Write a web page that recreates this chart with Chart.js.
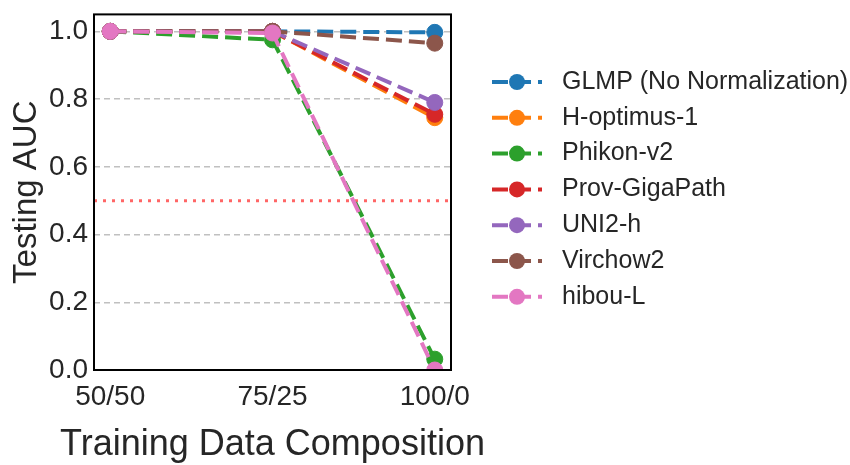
<!DOCTYPE html>
<html>
<head>
<meta charset="utf-8">
<script src="https://cdn.jsdelivr.net/npm/chart.js@4/dist/chart.umd.min.js"></script>
<style>
  body { margin: 0; background: #fff; }
  #wrap { width: 850px; height: 465px; }
</style>
</head>
<body>
<div id="wrap"><canvas id="auc-chart" width="850" height="465"></canvas></div>
<script>
// training splits along the x axis
var compositions = ["50/50", "75/25", "100/0"];
var yTicks = [0, 0.2, 0.4, 0.6, 0.8, 1.0];
var chanceLevel = 0.5;

var models = ["GLMP (No Normalization)", "H-optimus-1", "Phikon-v2", "Prov-GigaPath", "UNI2-h", "Virchow2", "hibou-L"];
var colors = ["#1f77b4", "#ff7f0e", "#2ca02c", "#d62728", "#9467bd", "#8c564b", "#e377c2"];

var glmpAuc      = [1.0, 1.0, 0.997];
var hoptimusAuc  = [1.0, 1.0, 0.745];
var phikonAuc    = [1.0, 0.975, 0.032];
var gigapathAuc  = [1.0, 1.0, 0.755];
var uni2Auc      = [1.0, 1.0, 0.79];
var virchowAuc   = [1.0, 1.0, 0.965];
var hibouAuc     = [1.0, 0.995, 0.0];

var aucSeries = [glmpAuc, hoptimusAuc, phikonAuc, gigapathAuc, uni2Auc, virchowAuc, hibouAuc];

var FONT = '"Liberation Sans", Arial, sans-serif';
var TEXT = '#262626';
var DASH = [16, 7];

var datasets = models.map(function(name, i) {
    return {
        label: name,
        data: aucSeries[i].map(function(v, j) { return { x: j, y: v }; }),
        borderColor: colors[i],
        backgroundColor: colors[i],
        pointBackgroundColor: colors[i],
        pointBorderColor: colors[i],
        pointBorderWidth: 1,
        pointRadius: 8,
        borderWidth: 4,
        borderDash: DASH,
        tension: 0,
        clip: 0,
        order: models.length - i   // later models on top
    };
});

// dotted chance line, axes frame, x title
var extras = {
    id: 'extras',
    beforeDatasetsDraw: function(chart) {
        var ctx = chart.ctx, a = chart.chartArea;
        var y = chart.scales.y.getPixelForValue(chanceLevel);
        ctx.save();
        ctx.strokeStyle = 'rgba(255, 0, 0, 0.6)';
        ctx.lineWidth = 3;
        ctx.setLineDash([3, 6]);
        ctx.beginPath();
        ctx.moveTo(a.left, y);
        ctx.lineTo(a.right, y);
        ctx.stroke();
        ctx.restore();
    },
    afterDatasetsDraw: function(chart) {
        var ctx = chart.ctx, a = chart.chartArea;
        ctx.save();
        ctx.strokeStyle = '#000';
        ctx.lineWidth = 2;
        ctx.strokeRect(a.left, a.top, a.right - a.left, a.bottom - a.top);
        // x axis title is wider than the axis, so draw it unclamped
        ctx.fillStyle = TEXT;
        ctx.font = '36px ' + FONT;
        ctx.textAlign = 'center';
        ctx.textBaseline = 'middle';
        ctx.fillText('Training Data Composition', (a.left + a.right) / 2, 445);
        ctx.restore();
    }
};

// legend with line + marker handles
var sideLegend = {
    id: 'sideLegend',
    afterDraw: function(chart) {
        var ctx = chart.ctx;
        var x0 = 492, x1 = 542, mx = 517, tx = 562, top = 82, step = 35.8;
        ctx.save();
        chart.data.datasets.forEach(function(ds, i) {
            var y = top + i * step;
            ctx.strokeStyle = ds.borderColor;
            ctx.lineWidth = 4;
            ctx.setLineDash(DASH);
            ctx.beginPath();
            ctx.moveTo(x0, y);
            ctx.lineTo(x1, y);
            ctx.stroke();
            ctx.setLineDash([]);
            ctx.fillStyle = ds.pointBackgroundColor;
            ctx.beginPath();
            ctx.arc(mx, y, 8, 0, Math.PI * 2);
            ctx.fill();
            ctx.fillStyle = TEXT;
            ctx.font = '25px ' + FONT;
            ctx.textBaseline = 'middle';
            ctx.textAlign = 'left';
            ctx.fillText(ds.label, tx, y);
        });
        ctx.restore();
    }
};

new Chart(document.getElementById("auc-chart"), {
    type: 'line',
    data: { datasets: datasets },
    plugins: [extras, sideLegend],
    options: {
        responsive: false,
        animation: false,
        layout: { padding: { left: 0, top: 13, right: 399, bottom: 0 } },
        plugins: {
            legend: { display: false },
            tooltip: { enabled: false }
        },
        scales: {
            x: {
                type: 'linear',
                min: -0.1,
                max: 2.1,
                afterBuildTicks: function(scale) {
                    scale.ticks = compositions.map(function(c, i) { return { value: i }; });
                },
                afterFit: function(scale) { scale.height = 95; },
                grid: { display: false, drawTicks: false },
                border: { display: false },
                ticks: {
                    padding: 10,
                    color: TEXT,
                    font: { family: FONT, size: 28 },
                    maxRotation: 0,
                    callback: function(v) { return compositions[v]; }
                }
            },
            y: {
                min: 0,
                max: 1.05,
                afterBuildTicks: function(scale) {
                    scale.ticks = yTicks.map(function(v) { return { value: v }; });
                },
                afterFit: function(scale) { scale.width = 94; },
                grid: { color: '#c0c0c0', lineWidth: 1.5, drawTicks: false },
                border: { display: false, dash: [6, 4] },
                ticks: {
                    padding: 6,
                    color: TEXT,
                    font: { family: FONT, size: 28, lineHeight: 0.6 },
                    callback: function(v) { return v.toFixed(1); }
                },
                title: {
                    display: true,
                    text: 'Testing AUC',
                    color: TEXT,
                    font: { family: FONT, size: 33, lineHeight: 1.2 },
                    padding: { top: 7, bottom: 0 }
                }
            }
        }
    }
});
</script>
</body>
</html>
